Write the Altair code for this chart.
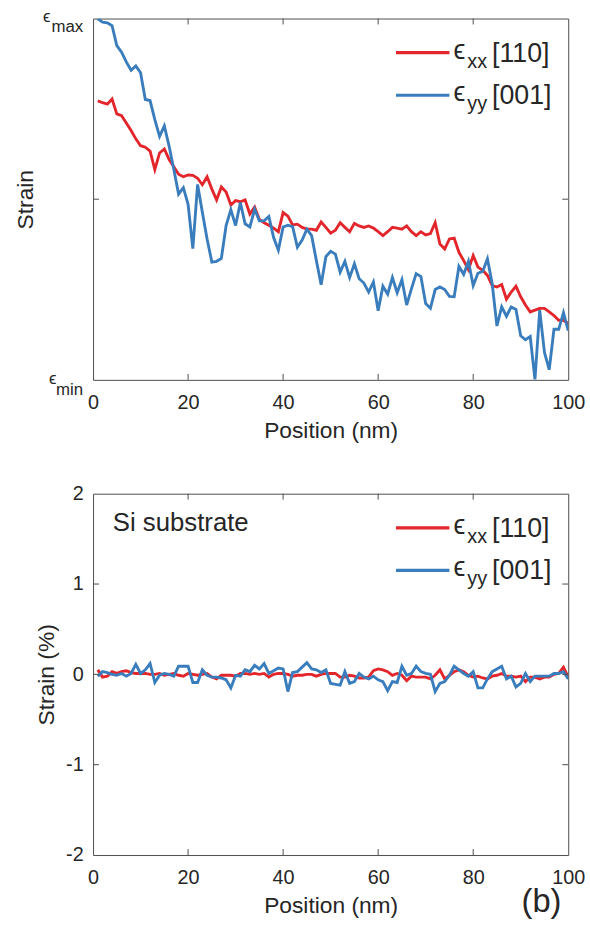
import altair as alt
import pandas as pd

FONT = "Liberation Sans"
RED = "#e3262b"
BLUE = "#3a7dbd"
INK = "#262626"
BOX = "#4d4d4d"

W, H = 480, 365
TICK = 6

# Position along the line scan (nm)
position = list(range(1, 101))

# Film: normalised strain between eps_min (0) and eps_max (1)
film_exx = [
    0.772, 0.767, 0.763, 0.777, 0.736, 0.731, 0.711, 0.690, 0.667, 0.648,
    0.644, 0.633, 0.582, 0.628, 0.639, 0.610, 0.590, 0.569, 0.562, 0.567,
    0.566, 0.558, 0.540, 0.562, 0.528, 0.498, 0.534, 0.520, 0.484, 0.496,
    0.493, 0.498, 0.459, 0.478, 0.444, 0.435, 0.428, 0.420, 0.410, 0.463,
    0.453, 0.429, 0.431, 0.422, 0.417, 0.417, 0.414, 0.437, 0.422, 0.406,
    0.414, 0.435, 0.422, 0.410, 0.433, 0.426, 0.422, 0.426, 0.420, 0.410,
    0.399, 0.410, 0.422, 0.420, 0.417, 0.426, 0.410, 0.399, 0.410, 0.401,
    0.405, 0.435, 0.376, 0.362, 0.390, 0.392, 0.353, 0.330, 0.305, 0.344,
    0.312, 0.303, 0.289, 0.261, 0.257, 0.264, 0.223, 0.243, 0.259, 0.230,
    0.207, 0.188, 0.193, 0.198, 0.198, 0.188, 0.178, 0.165, 0.165, 0.156,
]
film_eyy = [
    0.999, 0.990, 0.988, 0.980, 0.925, 0.907, 0.880, 0.857, 0.869, 0.850,
    0.776, 0.773, 0.720, 0.674, 0.703, 0.647, 0.582, 0.514, 0.532, 0.486,
    0.363, 0.541, 0.464, 0.390, 0.326, 0.328, 0.336, 0.427, 0.471, 0.427,
    0.491, 0.432, 0.423, 0.472, 0.440, 0.440, 0.452, 0.394, 0.359, 0.423,
    0.428, 0.424, 0.367, 0.387, 0.417, 0.399, 0.330, 0.263, 0.341, 0.356,
    0.348, 0.298, 0.328, 0.283, 0.321, 0.280, 0.268, 0.243, 0.271, 0.191,
    0.259, 0.237, 0.283, 0.241, 0.277, 0.207, 0.252, 0.294, 0.286, 0.211,
    0.198, 0.250, 0.257, 0.250, 0.231, 0.230, 0.314, 0.292, 0.328, 0.261,
    0.295, 0.300, 0.335, 0.266, 0.149, 0.202, 0.176, 0.202, 0.195, 0.122,
    0.111, 0.120, 0.001, 0.193, 0.076, 0.028, 0.140, 0.140, 0.186, 0.136,
]

# Si substrate: strain in percent
si_exx = [
    0.05, -0.03, -0.02, 0.03, 0.01, 0.03, 0.04, 0.02, 0.01, 0.01,
    0.01, 0.00, 0.00, 0.01, -0.01, 0.00, 0.01, -0.01, -0.02, 0.01,
    0.00, -0.01, 0.00, 0.01, -0.03, -0.05, -0.01, -0.01, -0.01, -0.02,
    0.01, 0.01, 0.00, 0.01, 0.00, 0.01, -0.03, 0.00, 0.01, 0.01,
    0.00, -0.02, -0.01, -0.01, 0.00, 0.00, -0.02, 0.00, 0.01, 0.01,
    0.01, -0.03, -0.03, -0.01, -0.02, -0.04, -0.04, -0.03, 0.04, 0.06,
    0.05, 0.03, -0.01, 0.01, -0.01, -0.07, -0.02, -0.03, -0.03, -0.03,
    -0.05, -0.01, 0.05, -0.05, -0.01, 0.03, 0.05, 0.03, -0.01, -0.03,
    -0.02, -0.04, -0.05, -0.02, -0.01, 0.01, -0.02, -0.02, -0.03, -0.02,
    -0.08, -0.03, -0.03, -0.05, -0.03, -0.03, 0.00, 0.01, 0.08, -0.03,
]
si_eyy = [
    -0.02, 0.03, 0.02, 0.00, -0.01, 0.01, -0.02, 0.01, 0.11, 0.01,
    0.05, 0.12, -0.09, -0.01, 0.01, 0.00, -0.02, 0.09, 0.09, 0.09,
    -0.09, -0.09, 0.05, -0.01, -0.03, -0.03, -0.04, -0.06, -0.15, -0.01,
    -0.02, 0.05, 0.03, 0.10, 0.06, 0.12, 0.01, 0.04, 0.07, 0.06,
    -0.19, 0.02, 0.03, 0.08, 0.13, 0.06, 0.05, 0.02, 0.05, -0.10,
    -0.11, -0.12, 0.03, -0.10, -0.08, 0.01, -0.03, -0.05, -0.02, -0.06,
    -0.08, -0.18, -0.08, -0.09, 0.09, -0.01, 0.01, 0.09, 0.03, 0.01,
    0.00, -0.19, -0.10, -0.08, -0.01, 0.09, 0.05, 0.01, -0.02, 0.03,
    -0.15, -0.15, -0.05, 0.03, 0.06, 0.09, -0.05, -0.02, -0.14, -0.10,
    0.01, -0.08, -0.02, -0.02, -0.02, -0.02, 0.01, 0.01, 0.03, -0.05,
]

x_ticks = [20, 40, 60, 80]
x_labels = [0, 20, 40, 60, 80, 100]
film_ticks = [0.5]
si_ticks = [-1, 0, 1]
si_labels = [-2, -1, 0, 1, 2]

series = [
    {"name": "exx", "sub": "xx", "tag": "[110]", "color": RED},
    {"name": "eyy", "sub": "yy", "tag": "[001]", "color": BLUE},
]


def x_enc():
    return alt.X(
        "Position:Q",
        scale=alt.Scale(domain=[0, 100], nice=False, zero=False),
        axis=alt.Axis(
            values=x_labels, title="Position (nm)", ticks=False, tickSize=0,
            domain=False, grid=False, labelPadding=13, labelFontSize=20,
            labelBaseline="top", labelColor=INK, labelFont=FONT,
            titleFont=FONT, titleFontSize=23, titleFontWeight="normal",
            titleColor=INK, titleBaseline="alphabetic", titleY=58,
            labelFlush=False,
        ),
    )


def y_enc(domain, labels, title, title_x):
    axis_kw = dict(
        title=title, ticks=False, tickSize=0, domain=False, grid=False,
        labelFontSize=20, labelColor=INK, labelFont=FONT, labelPadding=10,
        titleFont=FONT, titleFontSize=23, titleFontWeight="normal",
        titleColor=INK, titleBaseline="alphabetic", titleX=title_x,
        labelFlush=False,
    )
    if labels:
        axis_kw.update(values=labels, labelExpr="'' + datum.value")
    else:
        axis_kw.update(labels=False, values=[])
    return alt.Y(
        "Strain:Q",
        scale=alt.Scale(domain=domain, nice=False, zero=False),
        axis=alt.Axis(**axis_kw),
    )


def curves(values_xx, values_yy, domain, labels, title, title_x):
    layers = []
    for s, vals in zip(series, [values_xx, values_yy]):
        df = pd.DataFrame({"Position": position, "Strain": vals})
        layers.append(
            alt.Chart(df)
            .mark_line(color=s["color"], strokeWidth=2.9, clip=True)
            .encode(x=x_enc(), y=y_enc(domain, labels, title, title_x))
        )
    return layers


def box_ticks(y_ticks):
    xt = pd.DataFrame({"Position": x_ticks})
    yt = pd.DataFrame({"Strain": y_ticks})
    rule = dict(color=BOX, strokeWidth=1)
    return [
        alt.Chart(xt).mark_rule(**rule).encode(
            x="Position:Q", y=alt.value(H), y2=alt.value(H - TICK)),
        alt.Chart(xt).mark_rule(**rule).encode(
            x="Position:Q", y=alt.value(0), y2=alt.value(TICK)),
        alt.Chart(yt).mark_rule(**rule).encode(
            y="Strain:Q", x=alt.value(0), x2=alt.value(TICK)),
        alt.Chart(yt).mark_rule(**rule).encode(
            y="Strain:Q", x=alt.value(W), x2=alt.value(W - TICK)),
    ]


def legend_layers():
    out = []
    for i, s in enumerate(series):
        base_y = 34.5 + 43 * i
        one = pd.DataFrame({"k": [0]})
        out.append(
            alt.Chart(one).mark_rule(color=s["color"], strokeWidth=3.2).encode(
                x=alt.value(306), x2=alt.value(360), y=alt.value(base_y)))
        out.append(
            alt.Chart(one).mark_text(
                text="\u03f5", font=FONT, fontSize=27, color=INK,
                align="left", baseline="alphabetic",
            ).encode(x=alt.value(364), y=alt.value(base_y + 6)))
        out.append(
            alt.Chart(one).mark_text(
                text=s["sub"], font=FONT, fontSize=20, color=INK,
                align="left", baseline="alphabetic",
            ).encode(x=alt.value(378), y=alt.value(base_y + 15)))
        out.append(
            alt.Chart(one).mark_text(
                text=s["tag"], font=FONT, fontSize=27, color=INK,
                align="left", baseline="alphabetic",
            ).encode(x=alt.value(403), y=alt.value(base_y + 9)))
    return out


# ---- top panel: film strain, eps_min .. eps_max ----
ends = [
    {"Strain": 1.0, "sub": "max", "eps_dx": -43, "eps_dy": -2, "sub_dy": 13.5},
    {"Strain": 0.0, "sub": "min", "eps_dx": -37, "eps_dy": -1, "sub_dy": 15},
]
end_labels = []
for e in ends:
    d = pd.DataFrame({"Position": [0], "Strain": [e["Strain"]]})
    end_labels.append(
        alt.Chart(d).mark_text(
            text="\u03f5", font=FONT, fontSize=17, color=INK, align="right",
            baseline="middle", dx=e["eps_dx"], dy=e["eps_dy"],
        ).encode(x="Position:Q", y="Strain:Q"))
    end_labels.append(
        alt.Chart(d).mark_text(
            text=e["sub"], font=FONT, fontSize=17, color=INK, align="right",
            baseline="alphabetic", dx=-10, dy=e["sub_dy"],
        ).encode(x="Position:Q", y="Strain:Q"))

top = alt.layer(
    *curves(film_exx, film_eyy, [0, 1], None, "Strain", -61),
    *box_ticks(film_ticks),
    *end_labels,
    *legend_layers(),
).properties(width=W, height=H)

# ---- bottom panel: Si substrate, strain in % ----
one = pd.DataFrame({"k": [0]})
si_note = alt.Chart(one).mark_text(
    text="Si substrate", font=FONT, fontSize=26, color=INK,
    align="left", baseline="alphabetic",
).encode(x=alt.value(20), y=alt.value(38))
panel_tag = alt.Chart(one).mark_text(
    text="(b)", font=FONT, fontSize=33, color=INK,
    align="center", baseline="middle",
).encode(x=alt.value(453), y=alt.value(413))

bottom = alt.layer(
    *curves(si_exx, si_eyy, [-2, 2], si_labels, "Strain (%)", -40),
    *box_ticks(si_ticks),
    si_note,
    *legend_layers(),
    panel_tag,
).properties(width=W, height=H)

chart = (
    alt.vconcat(top, bottom, spacing=115, bounds="flush")
    .properties(padding={"left": 14, "top": 2, "right": 4, "bottom": 4},
                background="white")
    .configure_view(stroke=BOX, strokeWidth=1)
)

chart.save("out.html", embed_options={"renderer": "svg", "actions": False})
